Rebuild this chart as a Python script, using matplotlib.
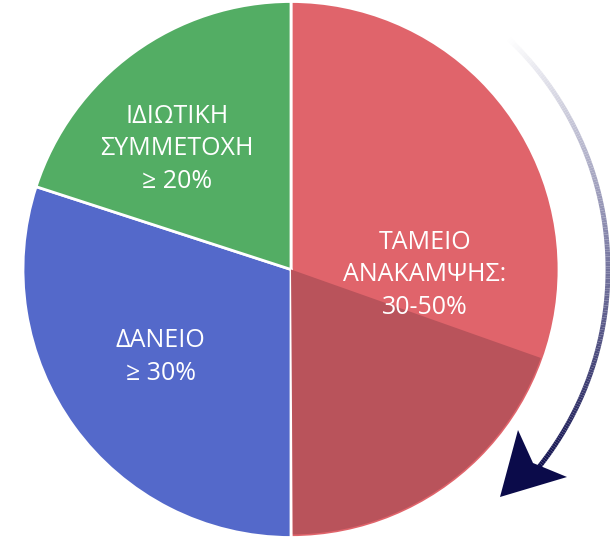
import numpy as np
import matplotlib
matplotlib.use("Agg")
import matplotlib.pyplot as plt
from matplotlib.patches import Wedge, Polygon
from matplotlib.collections import LineCollection
from matplotlib.colors import LinearSegmentedColormap

# data
labels = ["ΤΑΜΕΙΟ\nΑΝΑΚΑΜΨΗΣ:\n30-50%", "ΔΑΝΕΙΟ\n≥ 30%", "ΙΔΙΩΤΙΚΗ\nΣΥΜΜΕΤΟΧΗ\n≥ 20%"]
shares = [50, 30, 20]
fund_range = [30, 50]
colors = ["#E0646B", "#5469CA", "#53AD64"]
overlay_color = "#B9535B"

# label placement (angle in deg, fraction of radius)
label_pos = [(-2.3, 0.50), (213.9, 0.585), (133.4, 0.62)]

W, H = 610, 537
cx, cy, R = 291, 537 - 269.5, 268

plt.rcParams['font.family'] = ['Open Sans', 'DejaVu Sans']
fig = plt.figure(figsize=(W / 100, H / 100), dpi=100)
ax = fig.add_axes([0, 0, 1, 1])

wedges, _ = ax.pie(shares, startangle=90, counterclock=False, colors=colors,
                   center=(cx, cy), radius=R,
                   wedgeprops=dict(edgecolor="white", linewidth=2))

# darker part of the fund slice: between min and max share
t1 = 90 - 360 * fund_range[1] / 100
t2 = 90 - 360 * fund_range[0] / 100 - 1.5
ax.add_patch(Wedge((cx, cy), R - 3, t1 + 0.4, t2, facecolor=overlay_color,
                   edgecolor="none", zorder=3))

for lab, (ang, frac) in zip(labels, label_pos):
    a = np.deg2rad(ang)
    ax.text(cx + frac * R * np.cos(a), cy + frac * R * np.sin(a), lab,
            ha="center", va="center", color="white", fontsize=18,
            linespacing=1.4, zorder=5)

# gradient arrow arc
ra = 317
th = np.deg2rad(np.linspace(47, -41, 200))
xs, ys = cx + ra * np.cos(th), cy + ra * np.sin(th)
pts = np.array([xs, ys]).T.reshape(-1, 1, 2)
segs = np.concatenate([pts[:-1], pts[1:]], axis=1)
cmap = LinearSegmentedColormap.from_list("g", ["#FFFFFF", "#7C7CA4", "#0B0B4A"])
lc = LineCollection(segs, colors=cmap(np.linspace(0, 1, len(segs))), linewidth=3.5,
                    capstyle="butt", zorder=4)
ax.add_collection(lc)

head = [(500, 497), (518, 430), (533, 463), (567, 477)]
head = [(x, H - y) for x, y in head]
ax.add_patch(Polygon(head, closed=True, facecolor="#0B0B4A", edgecolor="none", zorder=4))

ax.set_xlim(0, W)
ax.set_ylim(0, H)
ax.set_aspect("equal")
ax.axis("off")
fig.savefig("out.png", dpi=100, facecolor="white")
